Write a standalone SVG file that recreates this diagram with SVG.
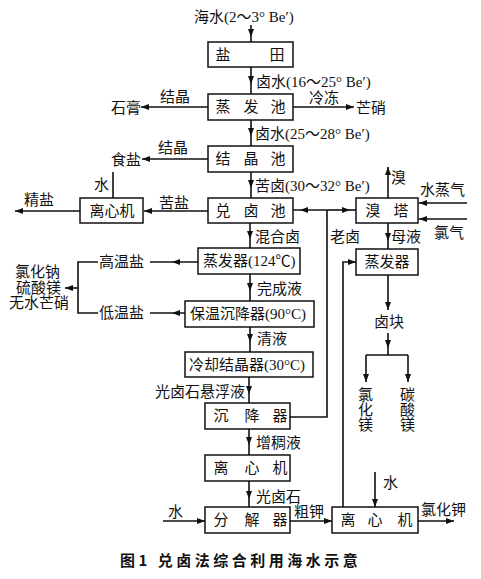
<svg xmlns="http://www.w3.org/2000/svg" width="481" height="579" viewBox="0 0 481 579">
<style>
.bx{fill:#fff;stroke:#111;stroke-width:1.5}
.ln{fill:none;stroke:#111;stroke-width:1.6}
.t{font-family:"Liberation Serif","Noto Sans CJK SC",serif;font-size:15px;fill:#111}
.b{font-family:"Noto Sans CJK SC",sans-serif;font-size:15px;fill:#111;text-anchor:middle}
.c{font-family:"Noto Sans CJK SC",sans-serif;font-size:15px;font-weight:bold;fill:#111}
</style>
<defs>
<marker id="a" viewBox="0 0 8 6" refX="8" refY="3" markerWidth="8" markerHeight="6" markerUnits="userSpaceOnUse" orient="auto"><path d="M0 0L8 3L0 6z" fill="#111"/></marker>
</defs>
<g id="connectors">
<path class="ln" d="M251 25L251 37L251 42" marker-mid="url(#a)"/>
<path class="ln" d="M251 67L251 84L251 94" marker-mid="url(#a)"/>
<path class="ln" d="M251 120L251 136L251 146" marker-mid="url(#a)"/>
<path class="ln" d="M251 172L251 188L251 198" marker-mid="url(#a)"/>
<path class="ln" d="M250 223L250 239L250 248" marker-mid="url(#a)"/>
<path class="ln" d="M250 274L250 291L250 301" marker-mid="url(#a)"/>
<path class="ln" d="M250 327L250 342L250 352" marker-mid="url(#a)"/>
<path class="ln" d="M249 377L249 394L249 403" marker-mid="url(#a)"/>
<path class="ln" d="M249 429L249 445L249 455" marker-mid="url(#a)"/>
<path class="ln" d="M249 481L249 499L249 507" marker-mid="url(#a)"/>
<path class="ln" d="M208 107L141 107" marker-end="url(#a)"/>
<path class="ln" d="M208 159L142 159" marker-end="url(#a)"/>
<path class="ln" d="M208 211L144 211" marker-end="url(#a)"/>
<path class="ln" d="M80 211L15 211" marker-end="url(#a)"/>
<path class="ln" d="M113 172L113 198"/>
<path class="ln" d="M198 262L172 262L150 262" marker-mid="url(#a)"/>
<path class="ln" d="M185 313L172 313L150 313" marker-mid="url(#a)"/>
<path class="ln" d="M98 262L78 262L78 313L98 313"/>
<path class="ln" d="M78 288L65 288" marker-end="url(#a)"/>
<path class="ln" d="M293 107L354 107" marker-end="url(#a)"/>
<path class="ln" d="M327 210L300 210L293 210" marker-mid="url(#a)"/>
<path class="ln" d="M327 210L350 210L356 210" marker-mid="url(#a)"/>
<path class="ln" d="M290 417L327 417L327 210"/>
<path class="ln" d="M388 198L388 167" marker-end="url(#a)"/>
<path class="ln" d="M467 203L419 203" marker-end="url(#a)"/>
<path class="ln" d="M467 219L419 219" marker-end="url(#a)"/>
<path class="ln" d="M388 223L388 241L388 249" marker-mid="url(#a)"/>
<path class="ln" d="M343 507L343 262L356 262" marker-end="url(#a)"/>
<path class="ln" d="M388 275L388 310" marker-end="url(#a)"/>
<path class="ln" d="M388 333L388 348L388 355" marker-mid="url(#a)"/>
<path class="ln" d="M366 355L408 355"/>
<path class="ln" d="M366 355L366 382" marker-end="url(#a)"/>
<path class="ln" d="M408 355L408 382" marker-end="url(#a)"/>
<path class="ln" d="M163 521L205 521" marker-end="url(#a)"/>
<path class="ln" d="M290 521L332 521" marker-end="url(#a)"/>
<path class="ln" d="M375 472L375 507" marker-end="url(#a)"/>
<path class="ln" d="M418 521L454 521" marker-end="url(#a)"/>
</g>
<g id="n-yantian"><rect class="bx" x="208" y="42" width="85" height="25"/><text class="b" x="223 277" y="60">盐田</text></g>
<g id="n-zhengfachi"><rect class="bx" x="208" y="94" width="85" height="26"/><text class="b" x="223 251 278" y="112">蒸发池</text></g>
<g id="n-jiejingchi"><rect class="bx" x="208" y="146" width="85" height="26"/><text class="b" x="223 251 278" y="164">结晶池</text></g>
<g id="n-duiluchi"><rect class="bx" x="208" y="198" width="85" height="25"/><text class="b" x="223 251 278" y="216">兑卤池</text></g>
<g id="n-lixinji1"><rect class="bx" x="80" y="198" width="63" height="25"/><text class="b" x="112" y="216">离心机</text></g>
<g id="n-xiuta"><rect class="bx" x="356" y="198" width="62" height="25"/><text class="b" x="373 401" y="216">溴塔</text></g>
<g id="n-zhengfaqi2"><rect class="bx" x="356" y="249" width="62" height="26"/><text class="b" x="387" y="267">蒸发器</text></g>
<g id="n-zhengfaqi1"><rect class="bx" x="198" y="248" width="102" height="26"/><text class="t" x="203" y="266">蒸发器(124℃)</text></g>
<g id="n-baowen"><rect class="bx" x="185" y="301" width="129" height="26"/><text class="t" x="190" y="319">保温沉降器(90°C)</text></g>
<g id="n-lengque"><rect class="bx" x="185" y="352" width="128" height="25"/><text class="t" x="189" y="370">冷却结晶器(30°C)</text></g>
<g id="n-chenjiangqi"><rect class="bx" x="205" y="403" width="85" height="26"/><text class="b" x="221 252 280" y="421">沉降器</text></g>
<g id="n-lixinji2"><rect class="bx" x="205" y="455" width="85" height="26"/><text class="b" x="221 252 280" y="473">离心机</text></g>
<g id="n-fenjieqi"><rect class="bx" x="205" y="507" width="85" height="26"/><text class="b" x="221 252 280" y="525">分解器</text></g>
<g id="n-lixinji3"><rect class="bx" x="332" y="507" width="86" height="26"/><text class="b" x="348 375 405" y="525">离心机</text></g>
<g id="labels">
<text class="t" x="194" y="22">海水(2～3° Be′)</text>
<text class="t" x="256" y="87">卤水(16～25° Be′)</text>
<text class="t" x="255" y="139">卤水(25～28° Be′)</text>
<text class="t" x="255" y="191">苦卤(30～32° Be′)</text>
<text class="t" x="160" y="102">结晶</text>
<text class="t" x="111" y="113">石膏</text>
<text class="t" x="309" y="103">冷冻</text>
<text class="t" x="356" y="113">芒硝</text>
<text class="t" x="158" y="153">结晶</text>
<text class="t" x="111" y="165">食盐</text>
<text class="t" x="159" y="208">苦盐</text>
<text class="t" x="24" y="205">精盐</text>
<text class="t" x="94" y="190">水</text>
<text class="t" x="391" y="183">溴</text>
<text class="t" x="420" y="195">水蒸气</text>
<text class="t" x="434" y="238">氯气</text>
<text class="t" x="391" y="242">母液</text>
<text class="t" x="330" y="242">老卤</text>
<text class="t" x="255" y="242">混合卤</text>
<text class="t" x="99" y="267">高温盐</text>
<text class="t" x="99" y="318">低温盐</text>
<text class="t" x="15" y="277">氯化钠</text>
<text class="t" x="16" y="293">硫酸镁</text>
<text class="t" x="9" y="308">无水芒硝</text>
<text class="t" x="257" y="294">完成液</text>
<text class="t" x="257" y="344">清液</text>
<text class="t" x="374" y="327">卤块</text>
<text class="t" x="358" y="400">氯</text>
<text class="t" x="358" y="415">化</text>
<text class="t" x="358" y="430">镁</text>
<text class="t" x="400" y="400">碳</text>
<text class="t" x="400" y="415">酸</text>
<text class="t" x="400" y="430">镁</text>
<text class="t" x="155" y="397">光卤石悬浮液</text>
<text class="t" x="256" y="448">增稠液</text>
<text class="t" x="256" y="502">光卤石</text>
<text class="t" x="168" y="517">水</text>
<text class="t" x="294" y="517">粗钾</text>
<text class="t" x="383" y="488">水</text>
<text class="t" x="421" y="515">氯化钾</text>
<text class="c" x="120" y="566" letter-spacing="3.5">图1  兑卤法综合利用海水示意</text>
</g>
</svg>
